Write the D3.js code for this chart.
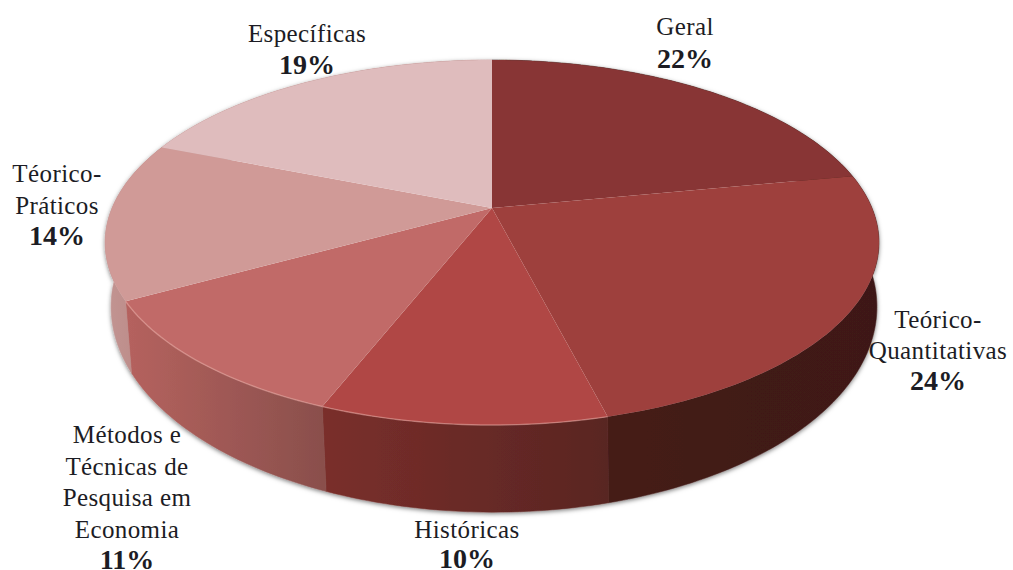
<!DOCTYPE html>
<html>
<head>
<meta charset="utf-8">
<script src="https://cdn.jsdelivr.net/npm/d3@7"></script>
<style>
  html, body { margin: 0; padding: 0; background: #fff; overflow: hidden; }
  text { font-family: "Liberation Serif", serif; font-size: 25px; letter-spacing: 0.4px; fill: #1c1c24; text-anchor: middle; }
  .pct { font-weight: bold; font-size: 28px; letter-spacing: 0; }
</style>
</head>
<body>
<div id="chart"></div>
<script>
// chart values, clockwise from 12 o'clock
const categories = ["Geral", "Teórico-Quantitativas", "Históricas",
  "Métodos e Técnicas de Pesquisa em Economia", "Téorico-Práticos", "Específicas"];
const shares = [22, 24, 10, 11, 14, 19];

// label text, one entry per line
const labelLines = [
  ["Geral"],
  ["Teórico-", "Quantitativas"],
  ["Históricas"],
  ["Métodos e", "Técnicas de", "Pesquisa em", "Economia"],
  ["Téorico-", "Práticos"],
  ["Específicas"]
];

// colours
const topColors = ["#883634", "#9e413e", "#b04744", "#c16b68", "#d09a97", "#dfbcbd"];
const wallLeft  = ["#3d1a17", "#451b17", "#7a2f2b", "#b5625e", "#c29592", "#c29592"];
const wallRight = ["#3d1a17", "#3e1916", "#592522", "#8a4f4c", "#b98583", "#b98583"];

// label anchor: centre x, first baseline, line step
const labelX = [685, 938, 467, 127, 57, 307];
const labelY = [35, 328, 538, 443, 182, 42];
const labelStep = [33, 31, 30, 31.5, 31.5, 32];

const W = 1013, H = 570;

// the disc is drawn with a small perspective, so the centre is not the middle of the ellipse
const K = 0.189;
const topDisc = { x0: 492, y0: 208, a: 380, b: 176 };
const lowDisc = { x0: 494, y0: 268, a: 376, b: 198 };

function project(disc, angle){
  const u = Math.sin(angle), v = -Math.cos(angle);
  const d = 1 - K * v;
  return [disc.x0 + disc.a * u / d, disc.y0 + disc.b * v / d];
}

// points along the rim between two angles
function rim(disc, a0, a1){
  const n = Math.max(2, Math.ceil((a1 - a0) / 0.02));
  return d3.range(n + 1).map(i => project(disc, a0 + (a1 - a0) * i / n));
}

const line = d3.line();

const svg = d3.select("#chart").append("svg")
    .attr("width", W).attr("height", H);

const defs = svg.append("defs");

// soft shadow under the wall
const shadow = defs.append("filter").attr("id", "shadow")
    .attr("x", "-5%").attr("y", "-5%").attr("width", "110%").attr("height", "115%");
shadow.append("feDropShadow").attr("dx", 0).attr("dy", 1.5).attr("stdDeviation", 2.2)
    .attr("flood-color", "#000").attr("flood-opacity", 0.5);

const soft = defs.append("filter").attr("id", "soft");
soft.append("feGaussianBlur").attr("stdDeviation", 0.6);

const arcs = d3.pie().sort(null).value(d => d)(shares);

// one gradient per wall, running across the slice
arcs.forEach((d, i) => {
  const xs = rim(topDisc, d.startAngle, d.endAngle).map(p => p[0]);
  const g = defs.append("linearGradient").attr("id", "wall" + i)
      .attr("gradientUnits", "userSpaceOnUse")
      .attr("x1", d3.min(xs)).attr("x2", d3.max(xs)).attr("y1", 0).attr("y2", 0);
  g.append("stop").attr("offset", 0).attr("stop-color", wallLeft[i]);
  g.append("stop").attr("offset", 1).attr("stop-color", wallRight[i]);
});

// walls first, back slices before the front ones
const walls = svg.append("g").attr("filter", "url(#shadow)");
walls.selectAll("path").data(arcs).join("path")
    .attr("d", d => {
      const upper = rim(topDisc, d.startAngle, d.endAngle);
      const lower = rim(lowDisc, d.startAngle, d.endAngle).reverse();
      return line(upper.concat(lower)) + "Z";
    })
    .attr("fill", (d, i) => `url(#wall${i})`)
    .attr("stroke", (d, i) => `url(#wall${i})`)
    .attr("stroke-width", 0.5);

// top face
const faces = svg.append("g").attr("filter", "url(#soft)");
faces.selectAll("path").data(arcs).join("path")
    .attr("d", d => line([[topDisc.x0, topDisc.y0]].concat(rim(topDisc, d.startAngle, d.endAngle))) + "Z")
    .attr("fill", (d, i) => topColors[i]);

// pale bevel along the front rim of the lighter slices
faces.selectAll("path.rim").data(arcs.slice(2, 4)).join("path")
    .attr("class", "rim")
    .attr("d", d => line(rim(topDisc, d.startAngle, d.endAngle)))
    .attr("fill", "none")
    .attr("stroke", "#e8a5a0").attr("stroke-width", 1.4).attr("stroke-opacity", 0.55);

// labels: name lines then the bold share
const labels = svg.append("g");
categories.forEach((c, i) => {
  const g = labels.append("g").attr("class", "label");
  labelLines[i].forEach((t, j) => {
    g.append("text").attr("x", labelX[i]).attr("y", labelY[i] + j * labelStep[i]).text(t);
  });
  g.append("text").attr("class", "pct")
      .attr("x", labelX[i])
      .attr("y", labelY[i] + labelLines[i].length * labelStep[i])
      .text(shares[i] + "%");
});
</script>
</body>
</html>
